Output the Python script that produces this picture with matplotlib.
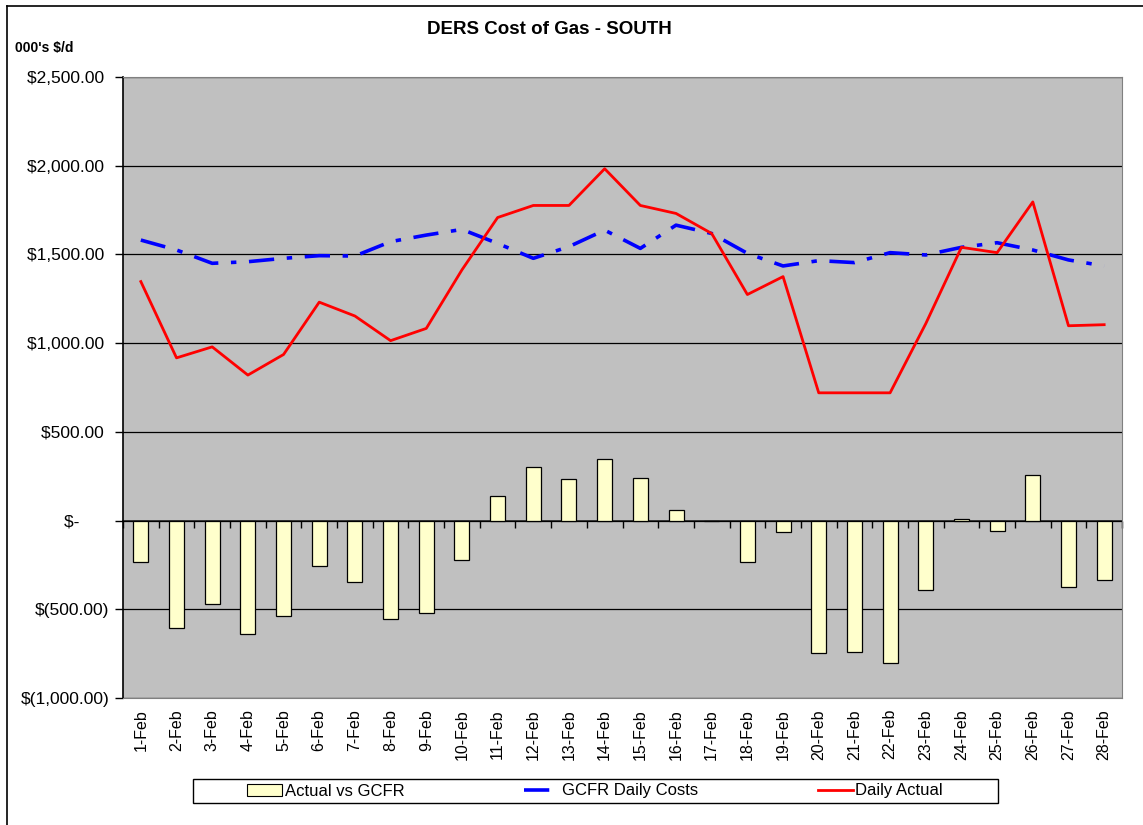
import numpy as np
import matplotlib.pyplot as plt
from matplotlib.lines import Line2D
from matplotlib.patches import Patch, Rectangle

plt.rcParams["font.family"] = ["Liberation Sans", "DejaVu Sans"]

days = [f"{d}-Feb" for d in range(1, 29)]

daily_actual = [1347, 917, 979, 820, 936, 1231, 1153, 1014, 1083, 1413,
                1708, 1776, 1776, 1983, 1776, 1731, 1618, 1274, 1375, 720,
                720, 720, 1110, 1540, 1510, 1796, 1098, 1104]
gcfr_daily = [1581, 1525, 1450, 1459, 1478, 1493, 1491, 1572, 1609, 1641,
              1562, 1478, 1544, 1637, 1534, 1665, 1618, 1506, 1435, 1465,
              1454, 1510, 1497, 1540, 1566, 1525, 1469, 1435]
actual_vs_gcfr = [-234, -607, -472, -639, -537, -258, -345, -556, -522, -223,
                  140, 303, 232, 348, 242, 62, 0, -234, -64, -745,
                  -740, -801, -391, 7, -56, 257, -375, -335]

yticks = [-1000, -500, 0, 500, 1000, 1500, 2000, 2500]
ytick_labels = ["$(1,000.00)", "$(500.00)", "$-      ", "$500.00 ",
                "$1,000.00 ", "$1,500.00 ", "$2,000.00 ", "$2,500.00 "]

W, H = 1143, 825
fig = plt.figure(figsize=(W / 100, H / 100), dpi=100)
ax = fig.add_axes([123 / W, 1 - 698 / H, (1122 - 123) / W, (698 - 77) / H])
ax.set_facecolor("#c0c0c0")

x = np.arange(len(days))
ax.bar(x, actual_vs_gcfr, width=0.42, color="#ffffcc", edgecolor="black",
       linewidth=0.9, zorder=3)
ax.plot(x, gcfr_daily, color="#0000ff", linewidth=2.6,
        dashes=(7, 3.5, 1.5, 3.5), zorder=4)
ax.plot(x, daily_actual, color="#ff0000", linewidth=2.0, zorder=5)

ax.set_xlim(-0.5, len(days) - 0.5)
ax.set_ylim(-1000, 2500)
ax.set_yticks(yticks)
ax.set_yticklabels(ytick_labels, fontsize=12.5)
ax.tick_params(axis="y", direction="out", length=6, width=1, pad=4)
ax.grid(axis="y", color="black", linewidth=0.9, zorder=1)
ax.set_axisbelow(True)

ax.set_xticks(x)
ax.set_xticklabels(days, rotation=90, fontsize=11.5)
ax.tick_params(axis="x", length=0, pad=8)

for side in ["top", "right", "bottom"]:
    ax.spines[side].set_color("#808080")
ax.spines["left"].set_color("black")
ax.spines["left"].set_linewidth(1.2)

# category axis sitting on the zero line
zero_frac = 1000 / 3500
sec = ax.secondary_xaxis(zero_frac)
sec.set_xticks(np.arange(len(days) + 1) - 0.5)
sec.set_xticklabels([])
sec.tick_params(direction="out", length=5, width=1, color="black")
sec.spines["bottom"].set_color("#303030")
sec.spines["bottom"].set_linewidth(1.3)

fig.text(549 / W, 1 - 30 / H, "DERS Cost of Gas - SOUTH", ha="center",
         va="center", fontsize=13.5, fontweight="bold")
fig.text(15 / W, 1 - 48 / H, "000's $/d", ha="left", va="center",
         fontsize=10, fontweight="bold")

# legend box drawn separately, entries placed inside it
fig.add_artist(Rectangle((193 / W, 1 - 803 / H), (998 - 193) / W, 24 / H,
                         transform=fig.transFigure, facecolor="white",
                         edgecolor="black", linewidth=1.0, zorder=2))
handles = [
    Patch(facecolor="#ffffcc", edgecolor="black", linewidth=0.8),
    Line2D([], [], color="#0000ff", linewidth=2.6, dashes=(7, 3.5, 1.5, 3.5)),
    Line2D([], [], color="#ff0000", linewidth=2.0),
]
labels = ["Actual vs GCFR", "GCFR Daily Costs", "Daily Actual"]
leg = fig.legend(handles, labels, loc="center", ncol=3,
                 bbox_to_anchor=(595 / W, 1 - 791 / H),
                 fontsize=12, frameon=False, borderpad=0,
                 handlelength=2.1, handletextpad=0.15, columnspacing=7.2)
leg.set_zorder(3)

# outer chart border
fig.add_artist(Line2D([7 / W, 7 / W], [0, 1 - 6 / H], color="black",
                      linewidth=1.2, transform=fig.transFigure))
fig.add_artist(Line2D([7 / W, 1], [1 - 6 / H, 1 - 6 / H], color="black",
                      linewidth=1.2, transform=fig.transFigure))

fig.savefig("out.png", dpi=100)
